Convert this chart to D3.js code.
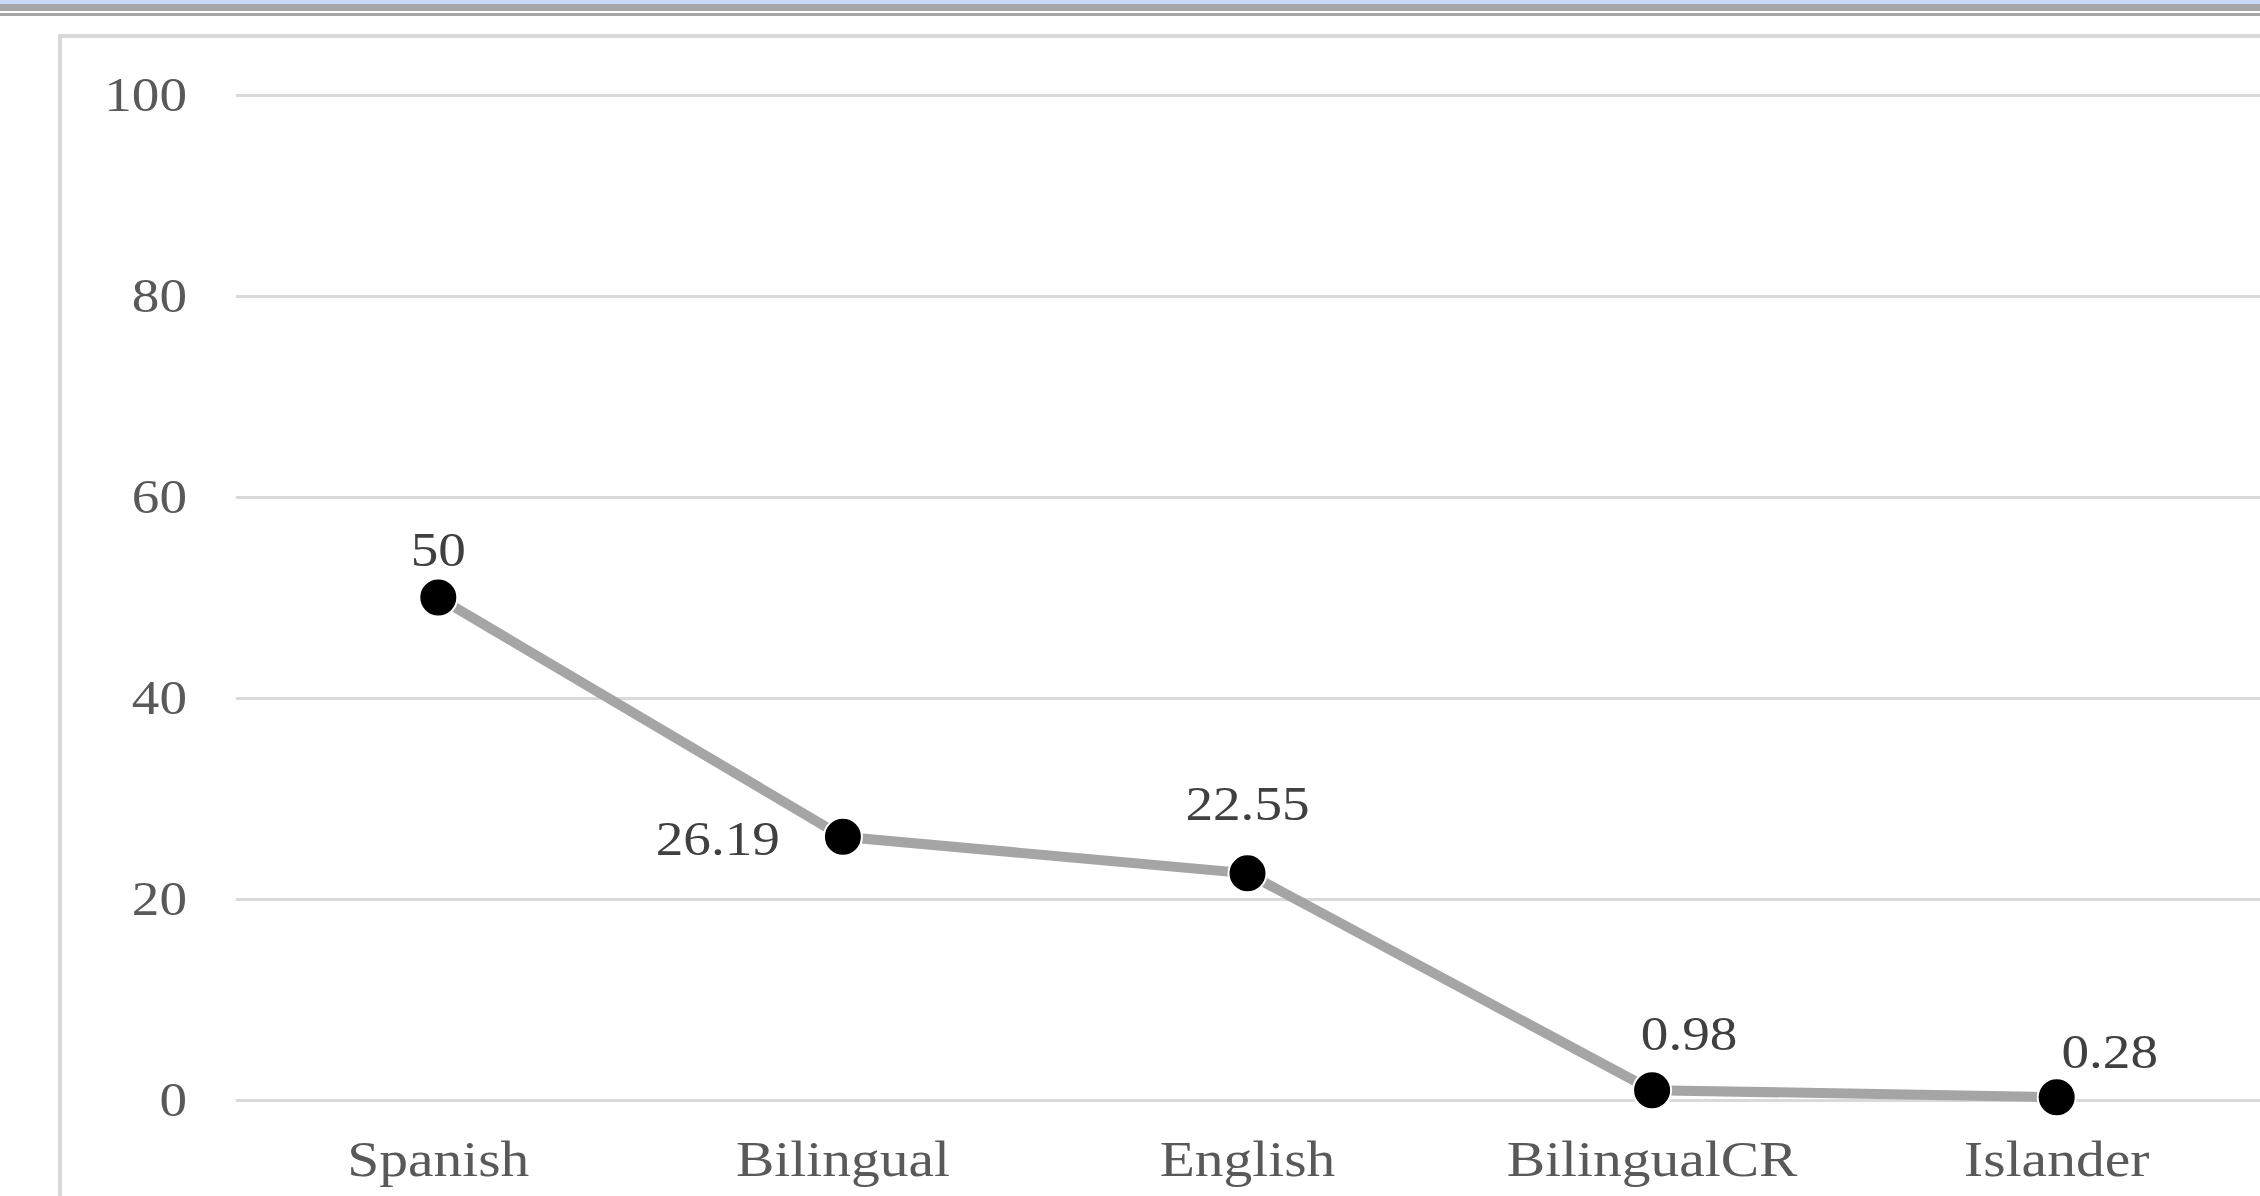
<!DOCTYPE html>
<html>
<head>
<meta charset="utf-8">
<script src="https://cdn.jsdelivr.net/npm/d3@7"></script>
<style>
  html, body { margin: 0; padding: 0; background: #fff; }
  svg { display: block; }
  text { font-family: "Liberation Serif", "Times New Roman", serif; }
</style>
</head>
<body>
<svg id="chart" width="2260" height="1196"></svg>
<script>
// Share of speakers by language group (%)
const categories = ["Spanish", "Bilingual", "English", "BilingualCR", "Islander"];
const values = [50, 26.19, 22.55, 0.98, 0.28];
const valueLabels = ["50", "26.19", "22.55", "0.98", "0.28"];
const yTicks = [0, 20, 40, 60, 80, 100];

// where each value label sits relative to its point
const labelPlacement = [
  { dx: 0,   dy: -32, anchor: "middle" },
  { dx: -63, dy: 18,  anchor: "end" },
  { dx: 0,   dy: -53, anchor: "middle" },
  { dx: 37,  dy: -40, anchor: "middle" },
  { dx: 53,  dy: -29, anchor: "middle" }
];

const W = 2260, H = 1196;
const plot = { left: 236, right: 2259, top: 95, bottom: 1100 };
const STRETCH = 1.15; // text is set slightly wide

const svg = d3.select("#chart");

// move a text's anchor point into a transform so it can be widened in place
function widen(sel) {
  sel.each(function () {
    const t = d3.select(this);
    const tx = +t.attr("x") || 0, ty = +t.attr("y") || 0;
    t.attr("x", 0).attr("y", 0)
     .attr("transform", `translate(${tx},${ty}) scale(${STRETCH},1)`);
  });
}

// window header strips
svg.append("rect").attr("x", 0).attr("y", 0).attr("width", W).attr("height", 4).attr("fill", "#c9daf8");
svg.append("rect").attr("x", 0).attr("y", 4).attr("width", W).attr("height", 7).attr("fill", "#a6a6a6");
svg.append("rect").attr("x", 0).attr("y", 13).attr("width", W).attr("height", 3).attr("fill", "#a6a6a6");

// chart frame
svg.append("path")
  .attr("d", `M60,${H + 5} L60,36 L${W + 5},36`)
  .attr("fill", "none")
  .attr("stroke", "#d9d9d9")
  .attr("stroke-width", 4);

const x = d3.scaleBand().domain(categories).range([plot.left, plot.right]).padding(0);
const y = d3.scaleLinear().domain([0, 100]).range([plot.bottom, plot.top]);
const cx = c => x(c) + x.bandwidth() / 2;

// horizontal gridlines
const grid = svg.append("g")
  .attr("transform", `translate(${plot.left},0)`)
  .call(d3.axisLeft(y).tickValues(yTicks).tickSize(-(W - plot.left)).tickFormat(""));
grid.select(".domain").remove();
grid.selectAll(".tick line").attr("stroke", "#d9d9d9").attr("stroke-width", 3);

// y-axis labels
const yAxis = svg.append("g")
  .attr("transform", `translate(${plot.left},0)`)
  .call(d3.axisLeft(y).tickValues(yTicks).tickSize(0).tickPadding(49));
yAxis.select(".domain").remove();
yAxis.selectAll("text")
  .attr("font-family", "Liberation Serif")
  .attr("font-size", 48)
  .attr("fill", "#595959")
  .call(widen);

// x-axis labels
const xAxis = svg.append("g")
  .attr("transform", `translate(0,${plot.bottom})`)
  .call(d3.axisBottom(x).tickSize(0).tickPadding(40));
xAxis.select(".domain").remove();
xAxis.selectAll("text")
  .attr("font-family", "Liberation Serif")
  .attr("font-size", 50)
  .attr("fill", "#595959")
  .call(widen);

const data = categories.map((c, i) => ({ c, v: values[i], label: valueLabels[i], p: labelPlacement[i] }));

// series line
svg.append("path")
  .datum(data)
  .attr("fill", "none")
  .attr("stroke", "#a5a5a5")
  .attr("stroke-width", 10)
  .attr("d", d3.line().x(d => cx(d.c)).y(d => y(d.v)));

// markers
svg.append("g").selectAll("circle")
  .data(data)
  .join("circle")
  .attr("cx", d => cx(d.c))
  .attr("cy", d => y(d.v))
  .attr("r", 19)
  .attr("fill", "#000")
  .attr("stroke", "#fff")
  .attr("stroke-width", 2);

// value labels
svg.append("g").selectAll("text")
  .data(data)
  .join("text")
  .attr("x", d => cx(d.c) + d.p.dx)
  .attr("y", d => y(d.v) + d.p.dy)
  .attr("text-anchor", d => d.p.anchor)
  .attr("font-size", 48)
  .attr("fill", "#404040")
  .text(d => d.label)
  .call(widen);
</script>
</body>
</html>
